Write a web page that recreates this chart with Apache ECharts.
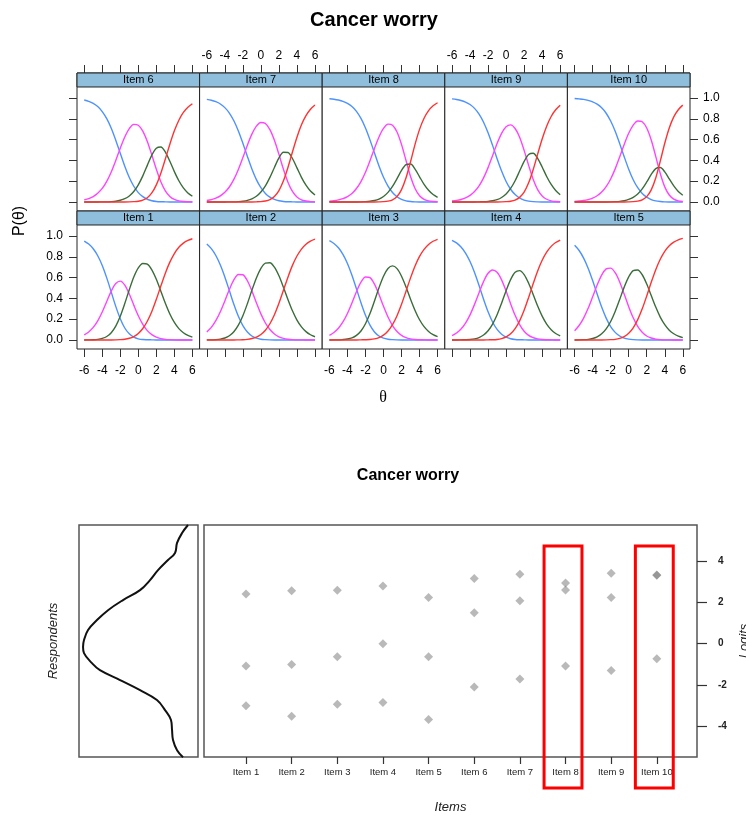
<!DOCTYPE html>
<html>
<head>
<meta charset="utf-8">
<title>Cancer worry</title>
<script src="https://cdn.jsdelivr.net/npm/echarts@6/dist/echarts.min.js"></script>
<style>
html, body { margin: 0; padding: 0; background: #fff; }
#chartmain { width: 746px; height: 817px; }
</style>
</head>
<body>
<div id="chartmain"></div>
<script>
// theta grid the category curves are read at (-6 .. 6, step 0.5)
var theta = [-6, -5.5, -5, -4.5, -4, -3.5, -3, -2.5, -2, -1.5, -1, -0.5, 0,
	0.5, 1, 1.5, 2, 2.5, 3, 3.5, 4, 4.5, 5, 5.5, 6];

// P(theta) per item: [cat 0 (blue), cat 1 (magenta), cat 2 (green), cat 3 (red)]
var item1 = [
	[0.951, 0.922, 0.877, 0.810, 0.717, 0.597, 0.460, 0.323, 0.204, 0.115, 0.059, 0.027, 0.011, 0.004, 0.002, 0.001, 0, 0, 0, 0, 0, 0, 0, 0, 0],
	[0.048, 0.077, 0.121, 0.184, 0.269, 0.370, 0.470, 0.543, 0.566, 0.528, 0.442, 0.335, 0.233, 0.150, 0.090, 0.051, 0.027, 0.013, 0.006, 0.003, 0.001, 0, 0, 0, 0],
	[0, 0.001, 0.002, 0.006, 0.015, 0.033, 0.070, 0.133, 0.228, 0.350, 0.483, 0.605, 0.693, 0.735, 0.729, 0.674, 0.583, 0.469, 0.352, 0.249, 0.168, 0.109, 0.069, 0.043, 0.027],
	[0, 0, 0, 0, 0, 0, 0, 0.001, 0.003, 0.007, 0.016, 0.033, 0.063, 0.110, 0.180, 0.274, 0.391, 0.518, 0.642, 0.748, 0.831, 0.891, 0.931, 0.957, 0.973]
];
var item2 = [
	[0.922, 0.878, 0.812, 0.721, 0.606, 0.475, 0.343, 0.227, 0.137, 0.076, 0.038, 0.017, 0.007, 0.003, 0.001, 0, 0, 0, 0, 0, 0, 0, 0, 0, 0],
	[0.077, 0.121, 0.185, 0.271, 0.375, 0.485, 0.577, 0.630, 0.627, 0.569, 0.472, 0.358, 0.251, 0.163, 0.100, 0.057, 0.030, 0.015, 0.007, 0.003, 0.001, 0.001, 0, 0, 0],
	[0.001, 0.001, 0.003, 0.008, 0.019, 0.040, 0.079, 0.142, 0.233, 0.349, 0.477, 0.596, 0.689, 0.739, 0.743, 0.700, 0.617, 0.507, 0.389, 0.280, 0.191, 0.126, 0.080, 0.050, 0.031],
	[0, 0, 0, 0, 0, 0, 0, 0.001, 0.002, 0.006, 0.014, 0.028, 0.053, 0.094, 0.156, 0.243, 0.353, 0.478, 0.604, 0.717, 0.807, 0.874, 0.920, 0.950, 0.969]
];
var item3 = [
	[0.955, 0.928, 0.886, 0.823, 0.736, 0.623, 0.492, 0.358, 0.237, 0.142, 0.077, 0.038, 0.017, 0.007, 0.003, 0.001, 0, 0, 0, 0, 0, 0, 0, 0, 0],
	[0.045, 0.072, 0.113, 0.173, 0.255, 0.356, 0.464, 0.555, 0.606, 0.600, 0.537, 0.437, 0.323, 0.220, 0.138, 0.081, 0.044, 0.022, 0.010, 0.005, 0.002, 0.001, 0, 0, 0],
	[0, 0.001, 0.001, 0.004, 0.009, 0.020, 0.044, 0.086, 0.156, 0.254, 0.375, 0.502, 0.613, 0.687, 0.712, 0.686, 0.613, 0.509, 0.392, 0.284, 0.194, 0.128, 0.082, 0.051, 0.032],
	[0, 0, 0, 0, 0, 0, 0, 0.001, 0.002, 0.004, 0.010, 0.023, 0.046, 0.086, 0.147, 0.233, 0.343, 0.469, 0.597, 0.712, 0.804, 0.871, 0.918, 0.949, 0.968]
];
var item4 = [
	[0.958, 0.933, 0.894, 0.836, 0.754, 0.648, 0.523, 0.392, 0.271, 0.173, 0.101, 0.055, 0.027, 0.012, 0.005, 0.002, 0.001, 0, 0, 0, 0, 0, 0, 0, 0],
	[0.042, 0.067, 0.105, 0.162, 0.241, 0.342, 0.454, 0.561, 0.641, 0.673, 0.651, 0.578, 0.470, 0.349, 0.237, 0.147, 0.084, 0.044, 0.022, 0.010, 0.004, 0.002, 0.001, 0, 0],
	[0, 0, 0.001, 0.002, 0.004, 0.010, 0.023, 0.047, 0.088, 0.152, 0.242, 0.354, 0.474, 0.580, 0.650, 0.667, 0.629, 0.546, 0.438, 0.326, 0.229, 0.153, 0.099, 0.062, 0.039],
	[0, 0, 0, 0, 0, 0, 0, 0, 0.001, 0.002, 0.005, 0.013, 0.029, 0.059, 0.109, 0.184, 0.286, 0.409, 0.540, 0.664, 0.767, 0.845, 0.900, 0.937, 0.961]
];
var item5 = [
	[0.910, 0.860, 0.787, 0.690, 0.571, 0.441, 0.316, 0.210, 0.129, 0.073, 0.038, 0.018, 0.008, 0.003, 0.001, 0, 0, 0, 0, 0, 0, 0, 0, 0, 0],
	[0.089, 0.139, 0.210, 0.304, 0.415, 0.528, 0.624, 0.683, 0.691, 0.647, 0.558, 0.441, 0.320, 0.213, 0.131, 0.074, 0.038, 0.019, 0.008, 0.003, 0.001, 0.001, 0, 0, 0],
	[0, 0.001, 0.003, 0.006, 0.014, 0.030, 0.059, 0.106, 0.177, 0.274, 0.389, 0.508, 0.607, 0.667, 0.673, 0.627, 0.538, 0.427, 0.316, 0.220, 0.147, 0.094, 0.060, 0.037, 0.023],
	[0, 0, 0, 0, 0, 0, 0, 0.001, 0.003, 0.006, 0.015, 0.033, 0.065, 0.117, 0.195, 0.299, 0.423, 0.554, 0.676, 0.776, 0.852, 0.905, 0.940, 0.963, 0.977]
];
var item6 = [
	[0.980, 0.968, 0.948, 0.917, 0.869, 0.801, 0.709, 0.594, 0.468, 0.343, 0.235, 0.151, 0.090, 0.051, 0.026, 0.012, 0.005, 0.002, 0.001, 0, 0, 0, 0, 0, 0],
	[0.020, 0.032, 0.052, 0.083, 0.130, 0.198, 0.288, 0.398, 0.517, 0.625, 0.706, 0.746, 0.738, 0.681, 0.581, 0.451, 0.314, 0.194, 0.107, 0.053, 0.024, 0.010, 0.004, 0.002, 0.001],
	[0, 0, 0, 0, 0.001, 0.001, 0.003, 0.007, 0.016, 0.031, 0.058, 0.101, 0.165, 0.251, 0.352, 0.451, 0.517, 0.528, 0.480, 0.391, 0.292, 0.204, 0.135, 0.087, 0.055],
	[0, 0, 0, 0, 0, 0, 0, 0, 0, 0, 0.001, 0.003, 0.007, 0.018, 0.041, 0.087, 0.164, 0.276, 0.413, 0.555, 0.684, 0.786, 0.861, 0.911, 0.944]
];
var item7 = [
	[0.986, 0.978, 0.964, 0.942, 0.907, 0.855, 0.781, 0.683, 0.565, 0.438, 0.317, 0.215, 0.137, 0.082, 0.046, 0.024, 0.011, 0.005, 0.002, 0.001, 0, 0, 0, 0, 0],
	[0.014, 0.022, 0.036, 0.058, 0.093, 0.144, 0.217, 0.313, 0.427, 0.546, 0.652, 0.729, 0.764, 0.754, 0.696, 0.593, 0.458, 0.314, 0.190, 0.101, 0.048, 0.021, 0.009, 0.003, 0.001],
	[0, 0, 0, 0, 0, 0.001, 0.001, 0.003, 0.007, 0.015, 0.030, 0.055, 0.096, 0.155, 0.236, 0.332, 0.423, 0.478, 0.476, 0.418, 0.328, 0.237, 0.161, 0.105, 0.067],
	[0, 0, 0, 0, 0, 0, 0, 0, 0, 0, 0, 0.001, 0.003, 0.009, 0.022, 0.052, 0.109, 0.203, 0.332, 0.481, 0.623, 0.742, 0.830, 0.892, 0.932]
];
var item8 = [
	[0.993, 0.988, 0.980, 0.968, 0.948, 0.917, 0.871, 0.803, 0.711, 0.597, 0.471, 0.346, 0.238, 0.153, 0.091, 0.050, 0.025, 0.011, 0.004, 0.001, 0, 0, 0, 0, 0],
	[0.007, 0.012, 0.020, 0.032, 0.052, 0.082, 0.129, 0.196, 0.286, 0.396, 0.515, 0.625, 0.707, 0.748, 0.738, 0.673, 0.553, 0.398, 0.244, 0.129, 0.060, 0.025, 0.010, 0.004, 0.002],
	[0, 0, 0, 0, 0, 0, 0, 0.001, 0.003, 0.007, 0.014, 0.028, 0.053, 0.092, 0.149, 0.224, 0.303, 0.360, 0.365, 0.316, 0.242, 0.169, 0.112, 0.071, 0.045],
	[0, 0, 0, 0, 0, 0, 0, 0, 0, 0, 0, 0.001, 0.003, 0.008, 0.021, 0.053, 0.119, 0.232, 0.387, 0.554, 0.698, 0.805, 0.878, 0.925, 0.954]
];
var item9 = [
	[0.991, 0.985, 0.976, 0.961, 0.937, 0.900, 0.845, 0.767, 0.665, 0.544, 0.416, 0.297, 0.197, 0.122, 0.071, 0.038, 0.018, 0.008, 0.003, 0.001, 0, 0, 0, 0, 0],
	[0.009, 0.015, 0.024, 0.039, 0.063, 0.100, 0.154, 0.231, 0.330, 0.445, 0.562, 0.660, 0.723, 0.741, 0.706, 0.622, 0.496, 0.352, 0.219, 0.119, 0.058, 0.026, 0.011, 0.004, 0.002],
	[0, 0, 0, 0, 0, 0, 0.001, 0.002, 0.005, 0.011, 0.022, 0.043, 0.077, 0.130, 0.204, 0.297, 0.390, 0.456, 0.468, 0.420, 0.336, 0.245, 0.168, 0.110, 0.070],
	[0, 0, 0, 0, 0, 0, 0, 0, 0, 0, 0, 0.001, 0.003, 0.007, 0.018, 0.044, 0.095, 0.184, 0.310, 0.460, 0.606, 0.729, 0.822, 0.886, 0.929]
];
var item10 = [
	[0.995, 0.991, 0.986, 0.977, 0.963, 0.940, 0.905, 0.853, 0.778, 0.680, 0.561, 0.435, 0.315, 0.214, 0.137, 0.082, 0.046, 0.023, 0.010, 0.004, 0.001, 0, 0, 0, 0],
	[0.005, 0.009, 0.014, 0.023, 0.037, 0.060, 0.095, 0.147, 0.221, 0.318, 0.433, 0.553, 0.660, 0.739, 0.779, 0.771, 0.711, 0.596, 0.438, 0.273, 0.145, 0.067, 0.028, 0.011, 0.004],
	[0, 0, 0, 0, 0, 0, 0, 0, 0.001, 0.003, 0.006, 0.012, 0.024, 0.044, 0.077, 0.126, 0.192, 0.265, 0.321, 0.331, 0.289, 0.221, 0.154, 0.101, 0.065],
	[0, 0, 0, 0, 0, 0, 0, 0, 0, 0, 0, 0, 0.001, 0.003, 0.008, 0.020, 0.051, 0.116, 0.231, 0.392, 0.565, 0.712, 0.818, 0.887, 0.931]
];

var itemNames = ['Item 1', 'Item 2', 'Item 3', 'Item 4', 'Item 5', 'Item 6', 'Item 7', 'Item 8', 'Item 9', 'Item 10'];
var thetaTicks = [-6, -4, -2, 0, 2, 4, 6];
var probTicks = [0, 0.2, 0.4, 0.6, 0.8, 1.0];

// Wright map: item thresholds (logits)
var thresholds = [
	[2.40, -1.09, -3.02],
	[2.56, -1.01, -3.52],
	[2.58, -0.64, -2.94],
	[2.79, -0.01, -2.86],
	[2.24, -0.64, -3.68],
	[3.15, 1.50, -2.10],
	[3.36, 2.08, -1.72],
	[2.94, 2.60, -1.09],
	[3.41, 2.24, -1.30],
	[3.31, 3.33, -0.74]
];
var logitTicks = [-4, -2, 0, 2, 4];
var highlighted = [8, 10];

// respondent density (read along the logit scale)
var densLogit = [5.75, 5.36, 4.88, 4.39, 4.05, 3.56, 3.08, 2.59, 2.11, 1.62, 1.14, 0.66, 0.17, -0.17,
	-0.46, -0.95, -1.29, -1.77, -2.26, -2.74, -3.23, -3.71, -4.20, -4.68, -5.17, -5.51];
var densValue = [0.084, 0.134, 0.176, 0.193, 0.252, 0.336, 0.403, 0.487, 0.630, 0.756, 0.849, 0.924, 0.958, 0.966,
	0.958, 0.891, 0.824, 0.655, 0.487, 0.345, 0.277, 0.227, 0.218, 0.210, 0.176, 0.126];

var itemCurves = [item1, item2, item3, item4, item5, item6, item7, item8, item9, item10];
var catColors = ['#4d92ff', '#ff44ff', '#3b6d3b', '#ff3333'];
var font = 'Liberation Sans, Arial, Helvetica, sans-serif';

var grids = [], xAxes = [], yAxes = [], series = [];

// lattice panels: bottom row Items 1-5, top row Items 6-10
var colLeft = 77, colW = 122.6, rowTop = [73, 211], rowH = 138;
var yMin = -0.087, yMax = 1.24, stripFrom = 1.1054;
for (var k = 0; k < 10; k++) {
	var row = k < 5 ? 1 : 0;
	var col = k % 5;
	grids.push({
		left: colLeft + col * colW, top: rowTop[row], width: colW, height: rowH,
		outerBoundsMode: 'none',
		show: true, borderColor: '#222', borderWidth: 1, backgroundColor: '#fff'
	});
	var showX = (row === 0 && (col === 1 || col === 3)) || (row === 1 && col % 2 === 0);
	xAxes.push({
		gridIndex: k, type: 'value', min: -6.8, max: 6.8,
		position: row === 0 ? 'top' : 'bottom',
		axisLine: { show: false, onZero: false }, splitLine: { show: false },
		axisTick: { show: true, length: 8, customValues: thetaTicks, lineStyle: { color: '#333' } },
		axisLabel: { show: showX, customValues: thetaTicks, margin: row === 0 ? 11 : 16, fontSize: 12, color: '#000', fontFamily: font }
	});
	var showY = (col === 0 && row === 1) || (col === 4 && row === 0);
	yAxes.push({
		gridIndex: k, type: 'value', min: yMin, max: yMax,
		position: col === 4 ? 'right' : 'left',
		axisLine: { show: false, onZero: false }, splitLine: { show: false },
		axisTick: { show: col === 0 || col === 4, length: 8, customValues: probTicks, lineStyle: { color: '#333' } },
		axisLabel: {
			show: showY, customValues: probTicks, margin: col === 4 ? 13 : 14, fontSize: 12, color: '#000', fontFamily: font,
			formatter: function (v) { return v.toFixed(1); }
		}
	});
	for (var c = 0; c < 4; c++) {
		var s = {
			type: 'line', xAxisIndex: k, yAxisIndex: k, silent: true,
			data: theta.map(function (t, i) { return [t, itemCurves[k][c][i]]; }),
			showSymbol: false, smooth: 0.3,
			lineStyle: { color: catColors[c], width: 1.4 }
		};
		if (c === 0) {
			s.markArea = {
				silent: true,
				itemStyle: { color: '#8ebedb', borderColor: '#222', borderWidth: 1 },
				label: { show: true, position: 'inside', color: '#000', fontSize: 11, fontFamily: font },
				data: [[{ name: itemNames[k], yAxis: stripFrom }, { yAxis: yMax }]]
			};
		}
		series.push(s);
	}
}

// Wright map: density panel (index 10) and item panel (index 11)
var lMin = -5.5, lMax = 5.75;
grids.push({ left: 79, top: 525, width: 119, height: 232, outerBoundsMode: 'none', show: true, borderColor: '#555', borderWidth: 1.5 });
grids.push({ left: 204, top: 525, width: 493, height: 232, outerBoundsMode: 'none', show: true, borderColor: '#555', borderWidth: 1.5 });
xAxes.push({ gridIndex: 10, type: 'value', min: 0, max: 1, inverse: true, show: false });
yAxes.push({
	gridIndex: 10, type: 'value', min: lMin, max: lMax,
	axisLine: { show: false, onZero: false }, axisTick: { show: false }, axisLabel: { show: false }, splitLine: { show: false },
	name: 'Respondents', nameLocation: 'middle', nameGap: 19, nameRotate: 90,
	nameTextStyle: { fontStyle: 'italic', fontSize: 13, color: '#222', fontFamily: font }
});
xAxes.push({
	gridIndex: 11, type: 'value', min: 0.08, max: 10.88, position: 'bottom',
	axisLine: { show: false, onZero: false }, splitLine: { show: false },
	axisTick: { show: true, length: 7, customValues: [1, 2, 3, 4, 5, 6, 7, 8, 9, 10], lineStyle: { color: '#333', width: 1.2 } },
	axisLabel: {
		customValues: [1, 2, 3, 4, 5, 6, 7, 8, 9, 10], margin: 10, fontSize: 9.5, color: '#222', fontFamily: font,
		formatter: function (v) { return itemNames[v - 1]; }
	},
	name: 'Items', nameLocation: 'middle', nameGap: 44,
	nameTextStyle: { fontStyle: 'italic', fontSize: 13, color: '#222', fontFamily: font }
});
yAxes.push({
	gridIndex: 11, type: 'value', min: lMin, max: lMax, position: 'right',
	axisLine: { show: false, onZero: false }, splitLine: { show: false },
	axisTick: { show: true, length: 10, customValues: logitTicks, lineStyle: { color: '#333', width: 1.2 } },
	axisLabel: { customValues: logitTicks, margin: 21, fontSize: 10, fontWeight: 'bold', color: '#222', fontFamily: font },
	name: 'Logits', nameLocation: 'middle', nameGap: 36, nameRotate: 90,
	nameTextStyle: { fontStyle: 'italic', fontSize: 13, color: '#222', fontFamily: font }
});

series.push({
	type: 'line', xAxisIndex: 10, yAxisIndex: 10, silent: true,
	data: densLogit.map(function (y, i) { return [densValue[i], y]; }),
	showSymbol: false, smooth: 0.4,
	lineStyle: { color: '#111', width: 2 }
});

var pts = [];
thresholds.forEach(function (arr, i) {
	arr.forEach(function (t) { pts.push([i + 1, t]); });
});
series.push({
	type: 'scatter', xAxisIndex: 11, yAxisIndex: 11, silent: true,
	data: pts, symbol: 'diamond', symbolSize: 9,
	itemStyle: { color: 'rgba(120,120,120,0.65)' }
});

// red boxes round the highlighted items
series.push({
	type: 'custom', xAxisIndex: 11, yAxisIndex: 11, silent: true, clip: false, z: 10,
	data: highlighted.map(function (h) { return [h]; }),
	renderItem: function (params, api) {
		var it = api.value(0);
		var p1 = api.coord([it - 0.47, 4.73]);
		var p2 = api.coord([it + 0.36, -7.0]);
		return {
			type: 'rect',
			shape: { x: p1[0], y: p1[1], width: p2[0] - p1[0], height: p2[1] - p1[1] },
			style: { fill: 'none', stroke: '#ff0000', lineWidth: 3 }
		};
	}
});

var option = {
	animation: false,
	backgroundColor: '#fff',
	textStyle: { fontFamily: font },
	title: [
		{ text: 'Cancer worry', left: 369, top: 5, textAlign: 'center', textStyle: { fontSize: 20, fontWeight: 'bold', color: '#000', fontFamily: font } },
		{ text: 'Cancer worry', left: 403, top: 463, textAlign: 'center', textStyle: { fontSize: 16, fontWeight: 'bold', color: '#000', fontFamily: font } }
	],
	graphic: [
		{ type: 'text', x: 20, y: 221, rotation: Math.PI / 2, style: { text: 'P(θ)', font: '16px ' + font, fill: '#000', textAlign: 'center', textVerticalAlign: 'middle' } },
		{ type: 'text', x: 383, y: 398, style: { text: 'θ', font: '16px "Liberation Serif", serif', fill: '#000', textAlign: 'center', textVerticalAlign: 'middle' } }
	],
	grid: grids,
	xAxis: xAxes,
	yAxis: yAxes,
	series: series
};

var myChart = echarts.init(document.getElementById('chartmain'));
myChart.setOption(option);
</script>
</body>
</html>
